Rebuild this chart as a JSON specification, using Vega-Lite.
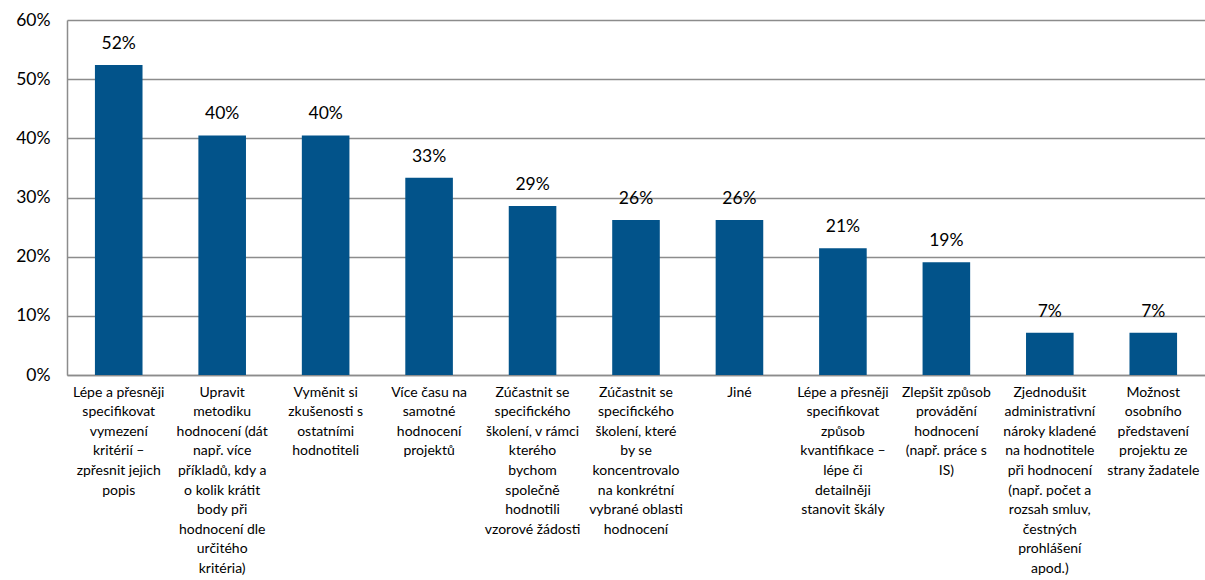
{
  "$schema": "https://vega.github.io/schema/vega-lite/v6.json",
  "width": 1138,
  "height": 355,
  "autosize": {"type": "none"},
  "padding": {"left": 67, "top": 20, "right": 0, "bottom": 205},
  "background": "white",
  "config": {
    "view": {"stroke": null},
    "font": "Lato"
  },
  "data": {
    "values": [
      {"label": "Lépe a přesněji\nspecifikovat\nvymezení\nkritérií –\nzpřesnit jejich\npopis", "value": 0.5238},
      {"label": "Upravit\nmetodiku\nhodnocení (dát\nnapř. více\npříkladů, kdy a\no kolik krátit\nbody při\nhodnocení dle\nurčitého\nkritéria)", "value": 0.4048},
      {"label": "Vyměnit si\nzkušenosti s\nostatními\nhodnotiteli", "value": 0.4048},
      {"label": "Více času na\nsamotné\nhodnocení\nprojektů", "value": 0.3333},
      {"label": "Zúčastnit se\nspecifického\nškolení, v rámci\nkterého\nbychom\nspolečně\nhodnotili\nvzorové žádosti", "value": 0.2857},
      {"label": "Zúčastnit se\nspecifického\nškolení, které\nby se\nkoncentrovalo\nna konkrétní\nvybrané oblasti\nhodnocení", "value": 0.2619},
      {"label": "Jiné", "value": 0.2619},
      {"label": "Lépe a přesněji\nspecifikovat\nzpůsob\nkvantifikace –\nlépe či\ndetailněji\nstanovit škály", "value": 0.2143},
      {"label": "Zlepšit způsob\nprovádění\nhodnocení\n(např. práce s\nIS)", "value": 0.1905},
      {"label": "Zjednodušit\nadministrativní\nnároky kladené\nna hodnotitele\npři hodnocení\n(např. počet a\nrozsah smluv,\nčestných\nprohlášení\napod.)", "value": 0.0714},
      {"label": "Možnost\nosobního\npředstavení\nprojektu ze\nstrany žadatele", "value": 0.0714}
    ]
  },
  "encoding": {
    "x": {
      "field": "label",
      "type": "nominal",
      "sort": null,
      "scale": {"paddingInner": 0.54, "paddingOuter": 0.27},
      "axis": {
        "title": null,
        "labelAngle": 0,
        "labelExpr": "split(datum.value, '\\n')",
        "labelFont": "Lato",
        "labelFontSize": 14,
        "labelColor": "#000000",
        "labelLineHeight": 19.6,
        "labelPadding": 10,
        "labelBaseline": "top",
        "labelLimit": 0,
        "ticks": false,
        "domain": true,
        "domainColor": "#8c8c8c",
        "domainWidth": 1.5,
        "grid": false
      }
    },
    "y": {
      "field": "value",
      "type": "quantitative",
      "scale": {"domain": [0, 0.6], "nice": false},
      "axis": {
        "title": null,
        "format": ".0%",
        "values": [0, 0.1, 0.2, 0.3, 0.4, 0.5, 0.6],
        "labelFont": "Lato",
        "labelFontSize": 17.5,
        "labelColor": "#000000",
        "labelPadding": 17,
        "ticks": false,
        "domain": true,
        "domainColor": "#8c8c8c",
        "domainWidth": 1.5,
        "grid": true,
        "gridColor": "#8c8c8c",
        "gridWidth": 1.5
      }
    }
  },
  "layer": [
    {
      "mark": {"type": "bar", "color": "#02538A"}
    },
    {
      "mark": {"type": "text", "baseline": "bottom", "dy": -12, "fontSize": 17.5, "font": "Lato", "color": "#000000"},
      "encoding": {
        "text": {"field": "value", "type": "quantitative", "format": ".0%"}
      }
    }
  ]
}
